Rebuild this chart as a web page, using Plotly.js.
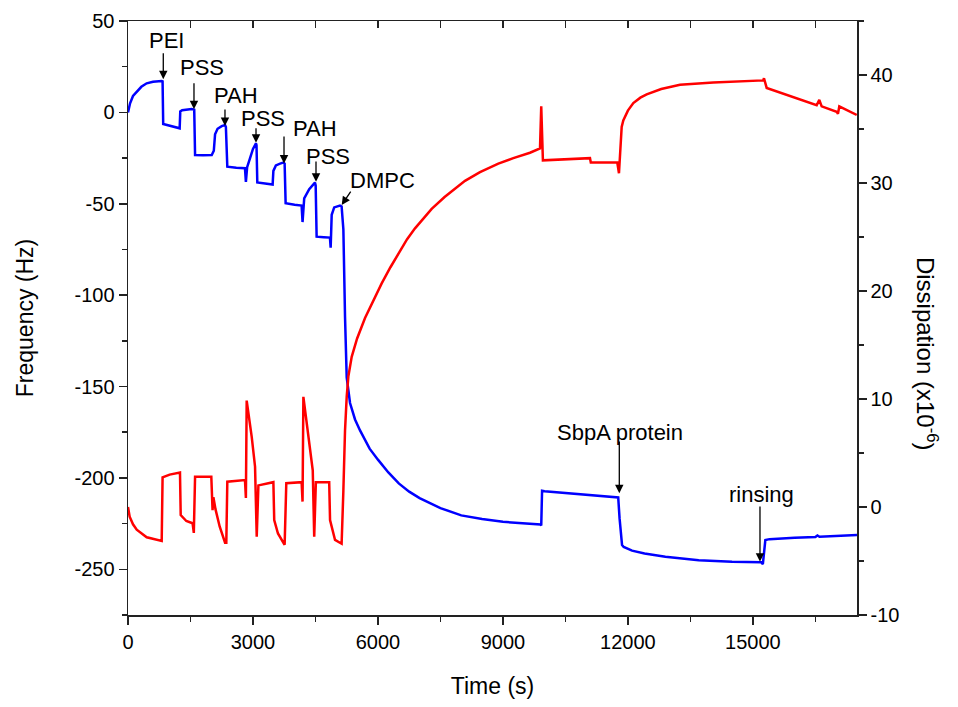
<!DOCTYPE html>
<html>
<head>
<meta charset="utf-8">
<script src="https://cdn.plot.ly/plotly-3.0.1.min.js"></script>
<style>html,body{margin:0;padding:0;background:#fff;}#chart{width:958px;height:707px;}</style>
</head>
<body>
<div id="chart"></div>
<script>
// Frequency (blue, left axis)
const freqTime = [0,50,120,209,320,449,600,809,830,845,1000,1240,1255,1300,1530,1590,1610,1800,2010,2060,2090,2150,2250,2330,2350,2384,2600,2808,2830,2860,2930,3000,3072,3085,3104,3300,3472,3490,3550,3650,3728,3760,3784,4000,4168,4190,4230,4350,4488,4505,4528,4700,4848,4865,4890,4950,5088,5128,5170,5210,5250,5330,5450,5570,5800,6000,6250,6500,6750,7000,7500,8000,8500,9000,9500,9900,9920,9940,10000,11000,11768,11800,11860,11900,12000,12100,12400,12900,13700,14500,15200,15240,15300,15400,16000,16500,16550,16600,17500];
const freqHz = [0,5,9,11.3,14,15.9,16.7,17.2,17.0,-6.4,-7.3,-8.7,0.5,1.2,1.8,1.5,-23.3,-23.5,-23.3,-21,-12,-9,-7.5,-6.9,-8,-29.7,-30.3,-30.5,-38,-30,-25,-20,-16.9,-18,-38.3,-39,-39.5,-32,-29,-28,-27.5,-28,-49.7,-50.5,-51,-60,-47,-42,-38.4,-40,-68,-68.3,-68.5,-74,-56,-52,-51,-51.5,-64,-112,-145,-159,-168,-174,-184,-190,-197,-203,-207.5,-211,-216.5,-220.5,-222.5,-224,-225,-225.5,-226,-207,-207.3,-209,-210.7,-222,-236.7,-237.8,-238.9,-239.8,-241.3,-243.1,-245,-245.9,-246.2,-247.1,-234,-233.5,-232.8,-232.3,-231.5,-232.2,-231.2];

// Dissipation (red, right axis)
const dissTime = [0,40,120,209,449,809,830,1000,1248,1265,1400,1550,1580,1610,2000,2030,2050,2100,2200,2330,2360,2384,2808,2830,2849,2970,3050,3090,3130,3490,3510,3600,3760,3800,4168,4190,4210,4330,4435,4470,4510,4830,4850,4970,5128,5170,5210,5250,5290,5370,5500,5690,5900,6090,6300,6490,6700,6890,7100,7290,7600,7850,8090,8450,8890,9250,9650,9890,9920,9960,11090,11110,11746,11786,11851,11890,12000,12130,12300,12451,12800,13251,14050,15250,15267,15332,16052,16532,16595,16652,17012,17043,17075,17493];
const dissVal = [0.0,-0.9,-1.6,-2.1,-2.8,-3.15,2.75,3.0,3.2,-0.74,-1.3,-1.5,-2.4,2.8,2.8,-0.3,0.9,-0.2,-1.8,-3.3,-3.3,2.34,2.5,0.83,9.85,6.5,3.73,-2.75,2.0,2.3,-1.2,-2.45,-3.5,2.2,2.3,0.5,10.2,6.5,3.4,-2.75,2.3,2.3,-1.2,-3.05,-3.4,1.5,7.1,10.2,12.1,13.9,15.6,17.5,19.2,20.7,22.2,23.5,24.8,25.8,26.8,27.6,28.7,29.5,30.2,31.0,31.8,32.3,32.8,33.2,37.1,32.1,32.3,31.9,31.9,30.9,35.2,35.8,36.7,37.4,37.9,38.2,38.7,39.1,39.3,39.5,39.7,38.8,37.8,37.2,37.7,37.1,36.6,36.4,37.1,36.3];

// Axis ticks
const xTickVals = [0,3000,6000,9000,12000,15000];
const xTickText = ["0","3000","6000","9000","12000","15000"];
const fTickVals = [50,0,-50,-100,-150,-200,-250];
const fTickText = ["50","0","-50","-100","-150","-200","-250"];
const dTickVals = [-10,0,10,20,30,40];
const dTickText = ["-10","0","10","20","30","40"];

// Labels with arrows (left-axis data coordinates)
const labelText  = ["PEI","PSS","PAH","PSS","PAH","PSS","DMPC","SbpA protein","rinsing"];
const labelX     = [929,1776,2593,3241,4482,4801,6121,11810,15212];
const labelY     = [39.6,24.6,9.5,-3.1,-8.8,-24.1,-37.5,-175.4,-209.3];
const arrowHeadX = [847,1584,2328,3073,3745,4513,5130,11794,15171];
const arrowHeadY = [18.1,1.7,-7.4,-16.6,-27.9,-37.9,-50.7,-208.4,-245.8];
const arrowTailX = [847,1584,2328,3073,3745,4513,5370,11794,15171];
const arrowTailY = [33.2,16.8,2.4,-7.8,-12.4,-26.1,-42.5,-179.3,-214.8];

const FONT = "Liberation Sans, Arial, sans-serif";

const traces = [
  {x: freqTime, y: freqHz, type: "scatter", mode: "lines", line: {color: "#0000ff", width: 2.5}, xaxis: "x", yaxis: "y", hoverinfo: "skip"},
  {x: dissTime, y: dissVal, type: "scatter", mode: "lines", line: {color: "#ff0000", width: 2.5}, xaxis: "x", yaxis: "y2", hoverinfo: "skip"},
  {x: [], y: [], type: "scatter", mode: "lines", xaxis: "x2", yaxis: "y", showlegend: false}
];

const annotations = [];
for (let i = 0; i < labelText.length; i++) {
  annotations.push({
    x: arrowHeadX[i], y: arrowHeadY[i], xref: "x", yref: "y",
    ax: arrowTailX[i], ay: arrowTailY[i], axref: "x", ayref: "y",
    text: "", showarrow: true, arrowhead: 2, arrowsize: 1.3, arrowwidth: 1.3, arrowcolor: "#000", standoff: 0, startstandoff: 0
  });
  annotations.push({
    x: labelX[i], y: labelY[i], xref: "x", yref: "y", text: labelText[i], showarrow: false,
    font: {family: FONT, size: 22, color: "#000"}, xanchor: "center", yanchor: "middle"
  });
}
annotations.push({
  x: 1.097, y: 0.44, xref: "paper", yref: "paper", text: "Dissipation (x10<sup>-6</sup>)",
  textangle: 90, showarrow: false, font: {family: FONT, size: 24, color: "#000"},
  xanchor: "center", yanchor: "middle"
});

const tickCol = "#222";
const layout = {
  width: 958, height: 707,
  margin: {l: 128, r: 101, t: 21, b: 92, pad: 0},
  paper_bgcolor: "#fff", plot_bgcolor: "#fff",
  showlegend: false,
  font: {family: FONT, color: "#000"},
  xaxis: {
    range: [0, 17500], tickmode: "array", tickvals: xTickVals, ticktext: xTickText,
    ticks: "outside", ticklen: 8, tickwidth: 1.5, tickcolor: tickCol,
    minor: {tickmode: "linear", tick0: 0, dtick: 1500, ticks: "outside", ticklen: 5, tickwidth: 1.5, tickcolor: tickCol, showgrid: false},
    showline: true, linewidth: 1.5, linecolor: tickCol, showgrid: false, zeroline: false,
    tickfont: {family: FONT, size: 20, color: "#000"},
    title: {text: "Time (s)", font: {family: FONT, size: 23, color: "#000"}, standoff: 26}
  },
  xaxis2: {
    overlaying: "x", side: "top", anchor: "y", range: [0, 17500], tick0: 0, dtick: 1500,
    ticks: "inside", ticklen: 7, tickwidth: 1.5, tickcolor: tickCol, showticklabels: false,
    showline: true, linewidth: 1.5, linecolor: tickCol, showgrid: false, zeroline: false
  },
  yaxis: {
    range: [-275, 50], tickmode: "array", tickvals: fTickVals, ticktext: fTickText,
    ticks: "outside", ticklen: 8, tickwidth: 1.5, tickcolor: tickCol,
    minor: {tickmode: "linear", tick0: 0, dtick: 25, ticks: "outside", ticklen: 5, tickwidth: 1.5, tickcolor: tickCol, showgrid: false},
    showline: true, linewidth: 1.5, linecolor: tickCol, showgrid: false, zeroline: false,
    tickfont: {family: FONT, size: 20, color: "#000"},
    title: {text: "Frequency (Hz)", font: {family: FONT, size: 23, color: "#000"}, standoff: 34}
  },
  yaxis2: {
    overlaying: "y", side: "right", range: [-10, 45], tickmode: "array", tickvals: dTickVals, ticktext: dTickText,
    ticks: "outside", ticklen: 8, tickwidth: 1.5, tickcolor: tickCol,
    minor: {tickmode: "linear", tick0: 0, dtick: 5, ticks: "outside", ticklen: 5, tickwidth: 1.5, tickcolor: tickCol, showgrid: false},
    showline: true, linewidth: 1.5, linecolor: tickCol, showgrid: false, zeroline: false,
    tickfont: {family: FONT, size: 20, color: "#000"}
  },
  annotations: annotations
};

Plotly.newPlot("chart", traces, layout, {displayModeBar: false, staticPlot: true});
</script>
</body>
</html>
